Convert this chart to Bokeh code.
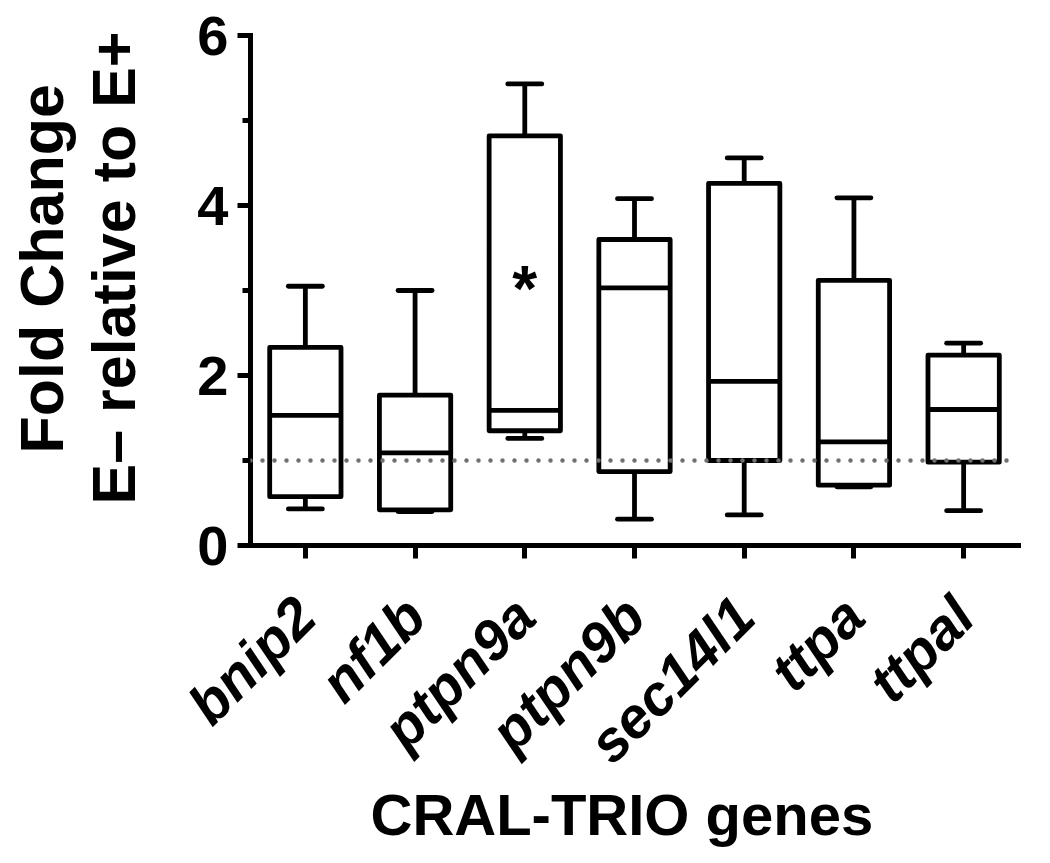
from math import pi
from bokeh.plotting import figure
from bokeh.models import ColumnDataSource, FactorRange, Range1d, FixedTicker, Span, Title
from bokeh.transform import dodge
from bokeh.core.properties import value
from bokeh.embed import file_html
from bokeh.resources import INLINE

# ---- data ----
genes = ["bnip2", "nf1b", "ptpn9a", "ptpn9b", "sec14l1", "ttpa", "ttpal"]
whisker_low = [0.43, 0.40, 1.26, 0.31, 0.36, 0.69, 0.41]
q1 = [0.575, 0.42, 1.35, 0.87, 1.00, 0.71, 0.98]
median = [1.53, 1.09, 1.59, 3.03, 1.93, 1.22, 1.60]
q3 = [2.33, 1.77, 4.82, 3.60, 4.26, 3.12, 2.24]
whisker_high = [3.05, 3.00, 5.43, 4.08, 4.56, 4.09, 2.38]
reference_level = 1.0
sig_gene = ["ptpn9a"]
sig_y = [3.1]
sig_text = ["*"]
y_ticks = [0, 2, 4, 6]
y_minor_ticks = [1, 3, 5]
x_title = "CRAL-TRIO genes"
y_title_1 = "Fold Change"
y_title_2 = "E\u2013 relative to E+"

FONT = "Liberation Sans"
BOX_W = 0.65
CAP_W = 0.31
LW = 4.8

src = ColumnDataSource(dict(gene=genes, wlo=whisker_low, q1=q1, med=median,
                            q3=q3, whi=whisker_high))

p = figure(x_range=FactorRange(factors=genes), y_range=Range1d(0, 6),
           width=1040, height=855, output_backend="svg", toolbar_location=None,
           min_border_left=250, min_border_right=22, min_border_top=35,
           min_border_bottom=310)
p.title.visible = False
p.xgrid.visible = False
p.ygrid.visible = False
p.outline_line_color = None
p.background_fill_color = "white"

# whiskers (vertical)
p.segment(x0="gene", x1="gene", y0="q3", y1="whi", source=src,
          line_color="black", line_width=LW)
p.segment(x0="gene", x1="gene", y0="wlo", y1="q1", source=src,
          line_color="black", line_width=LW)
# caps
for col in ("whi", "wlo"):
    p.segment(x0=dodge("gene", -CAP_W / 2, range=p.x_range),
              x1=dodge("gene", CAP_W / 2, range=p.x_range),
              y0=col, y1=col, source=src, line_color="black",
              line_width=LW, line_cap="round")
# boxes
p.vbar(x="gene", width=BOX_W, bottom="q1", top="q3", source=src,
       fill_color="white", line_color="black", line_width=LW, line_join="round")
# medians
p.segment(x0=dodge("gene", -BOX_W / 2, range=p.x_range),
          x1=dodge("gene", BOX_W / 2, range=p.x_range),
          y0="med", y1="med", source=src, line_color="black", line_width=LW)

# reference dotted line
p.add_layout(Span(location=reference_level, dimension="width", line_color="#707070",
                  line_width=4.5, line_dash="0 12", line_cap="round"))

# significance asterisk
p.text(x=sig_gene, y=sig_y, text=sig_text, text_font=value(FONT),
       text_font_style="bold", text_font_size="64px", text_align="center",
       text_baseline="alphabetic", y_offset=7, text_color="black")

# axes
for ax in (p.xaxis[0], p.yaxis[0]):
    ax.axis_line_width = 5
    ax.axis_line_cap = "square"
    ax.major_tick_line_width = 5
    ax.major_tick_out = 13
    ax.major_tick_in = 0
    ax.major_label_text_font = FONT
    ax.major_label_text_color = "black"
    ax.major_label_text_font_style = "bold"

p.yaxis[0].ticker = FixedTicker(ticks=y_ticks, minor_ticks=y_minor_ticks)
p.yaxis[0].minor_tick_out = 8
p.yaxis[0].minor_tick_in = 0
p.yaxis[0].minor_tick_line_width = 5
p.yaxis[0].major_label_text_font_size = "56px"
p.yaxis[0].major_label_standoff = 9

p.xaxis[0].major_label_orientation = pi / 4
p.xaxis[0].major_label_text_font_size = "57px"
p.xaxis[0].major_label_text_font_style = "bold italic"
p.xaxis[0].major_label_standoff = 48

# axis titles
p.add_layout(Title(text=x_title, align="left", offset=120, text_font=FONT,
                   text_font_style="bold", text_font_size="58px",
                   text_color="black", standoff=-42), "below")
p.add_layout(Title(text=y_title_2, align="left", offset=41, text_font=FONT,
                   text_font_style="bold", text_font_size="61px",
                   text_color="black", standoff=94), "left")
p.add_layout(Title(text=y_title_1, align="left", offset=92, text_font=FONT,
                   text_font_style="bold", text_font_size="61px",
                   text_color="black", standoff=-90), "left")

open("out.html", "w").write(file_html(p, INLINE))
